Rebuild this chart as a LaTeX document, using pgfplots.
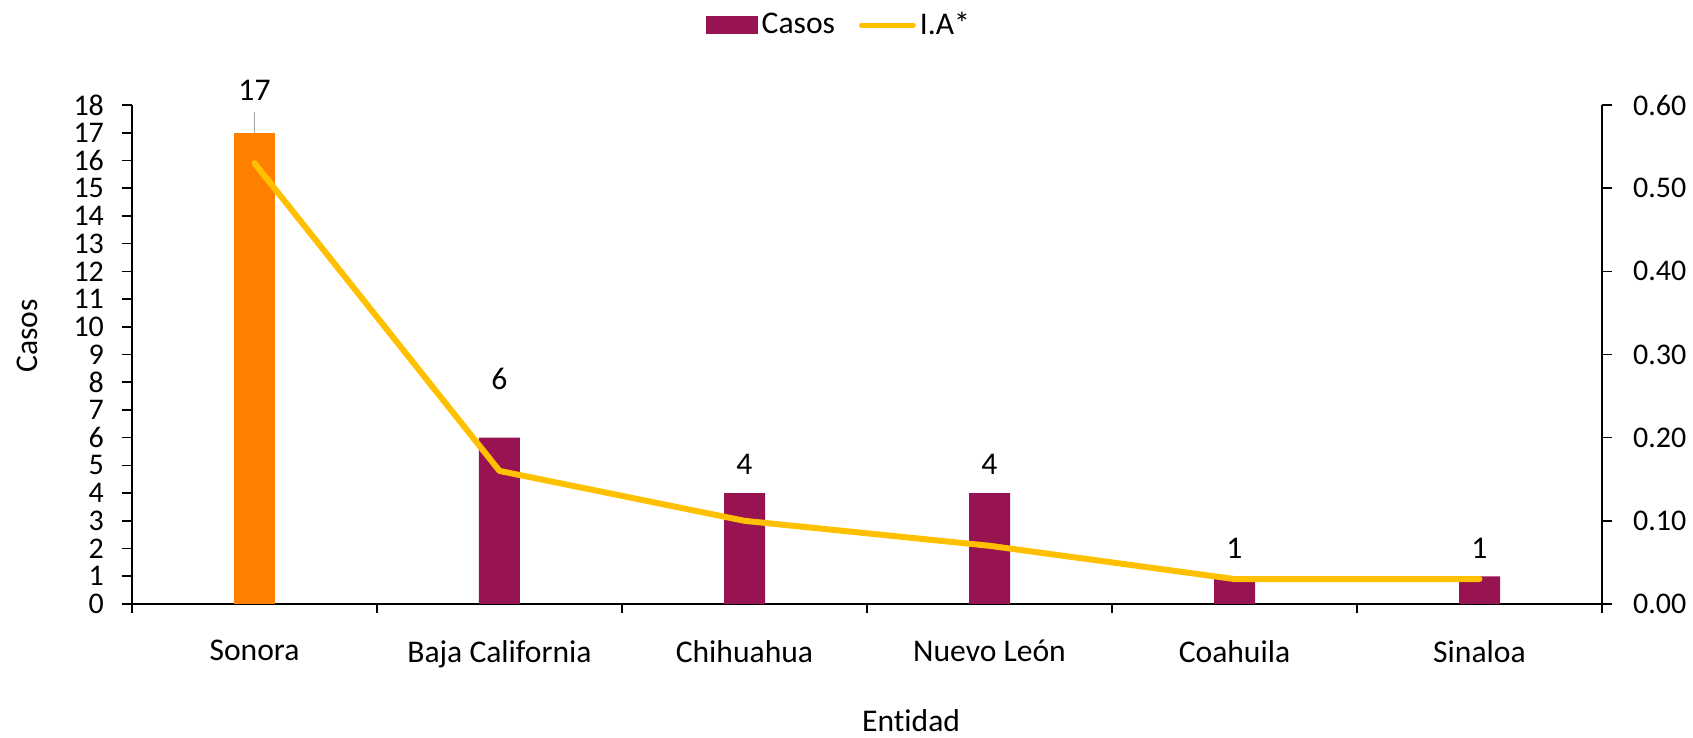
\documentclass[border=0pt]{standalone}
\usepackage{fontspec}
\setmainfont{Carlito}[Ligatures={NoCommon}]
\usepackage{pgfplots}
\pgfplotsset{compat=1.18}
\definecolor{barmaroon}{HTML}{981352}
\definecolor{barorange}{HTML}{FF8000}
\definecolor{linegold}{HTML}{FFC000}
\newcommand{\chf}{\fontsize{15.8}{19}\selectfont}
\newcommand{\tkf}{\fontsize{15}{18}\selectfont}
\begin{document}
\begin{tikzpicture}
\useasboundingbox (-66pt,-67pt) rectangle (780.5pt,302pt);
\begin{axis}[
  at={(0,0)}, anchor=south west,
  scale only axis, width=735pt, height=249.5pt,
  xmin=-0.5, xmax=5.5, ymin=0, ymax=18,
  axis x line*=bottom, axis y line*=left,
  axis line style={line width=0.8pt, -},
  tick align=outside,
  tick style={black, line width=0.8pt},
  xtick={0,1,2,3,4,5},
  xticklabels={Sonora,Baja California,Chihuahua,Nuevo León,Coahuila,Sinaloa},
  minor xtick={-0.5,0.5,1.5,2.5,3.5,4.5,5.5},
  major x tick style={draw=none},
  minor tick length=4.5pt,
  major tick length=5pt,
  ytick={0,1,...,18},
  /pgf/number format/assume math mode=true,
  xticklabel style={font=\chf, yshift=-9.5pt},
  yticklabel style={font=\tkf, xshift=-5.5pt, inner ysep=0.5pt},
  xlabel={Entidad}, ylabel={Casos},
  every axis x label/.style={at={(rel axis cs:0.53,0)}, yshift=-58.5pt, anchor=center, font=\chf},
  every axis y label/.style={at={(rel axis cs:0,0.537)}, xshift=-52.5pt, rotate=90, anchor=center, font=\chf},
  clip=false,
]
\addplot[ybar, bar width=20.5pt, bar shift=0pt, fill=barorange, draw=none] coordinates {(0,17)};
\addplot[ybar, bar width=20.5pt, bar shift=0pt, fill=barmaroon, draw=none] coordinates {(1,6)(2,4)(3,4)(4,1)(5,1)};
\draw[gray!70, line width=0.8pt] (axis cs:0,17) -- (axis cs:0,17.75);
\node[font=\chf] at (axis cs:0,18.52) {17};
\node[font=\chf] at (axis cs:1,8.12) {6};
\node[font=\chf] at (axis cs:2,5.05) {4};
\node[font=\chf] at (axis cs:3,5.05) {4};
\node[font=\chf] at (axis cs:4,2.02) {1};
\node[font=\chf] at (axis cs:5,2.02) {1};
\end{axis}
\begin{axis}[
  at={(0,0)}, anchor=south west,
  scale only axis, width=735pt, height=249.5pt,
  xmin=-0.5, xmax=5.5, ymin=0, ymax=0.6,
  axis y line*=right, axis x line=none,
  axis line style={line width=0.8pt, -},
  tick align=outside,
  tick style={black, line width=0.8pt},
  major tick length=5pt,
  ytick={0,0.1,0.2,0.3,0.4,0.5,0.6},
  /pgf/number format/assume math mode=true,
  yticklabel style={font=\tkf, xshift=7pt, /pgf/number format/.cd, fixed, fixed zerofill, precision=2},
  legend columns=2,
  legend style={at={(rel axis cs:0.4816,1.16)}, anchor=center, draw=none, font=\chf,
    /tikz/every even column/.append style={column sep=10pt}},
  clip=false,
]
\addlegendimage{legend image code/.code={\fill[barmaroon] (0pt,-4.25pt) rectangle (25.5pt,4.25pt);}}
\addlegendentry{Casos}
\addplot[linegold, line width=3pt, line join=round, line cap=round,
  legend image code/.code={\draw[linegold, line width=2.4pt, line cap=round] (1pt,0pt) -- (27pt,0pt);}]
  coordinates {(0,0.53)(1,0.16)(2,0.10)(3,0.07)(4,0.03)(5,0.03)};
\addlegendentry{I.A*}
\end{axis}
\end{tikzpicture}
\end{document}
